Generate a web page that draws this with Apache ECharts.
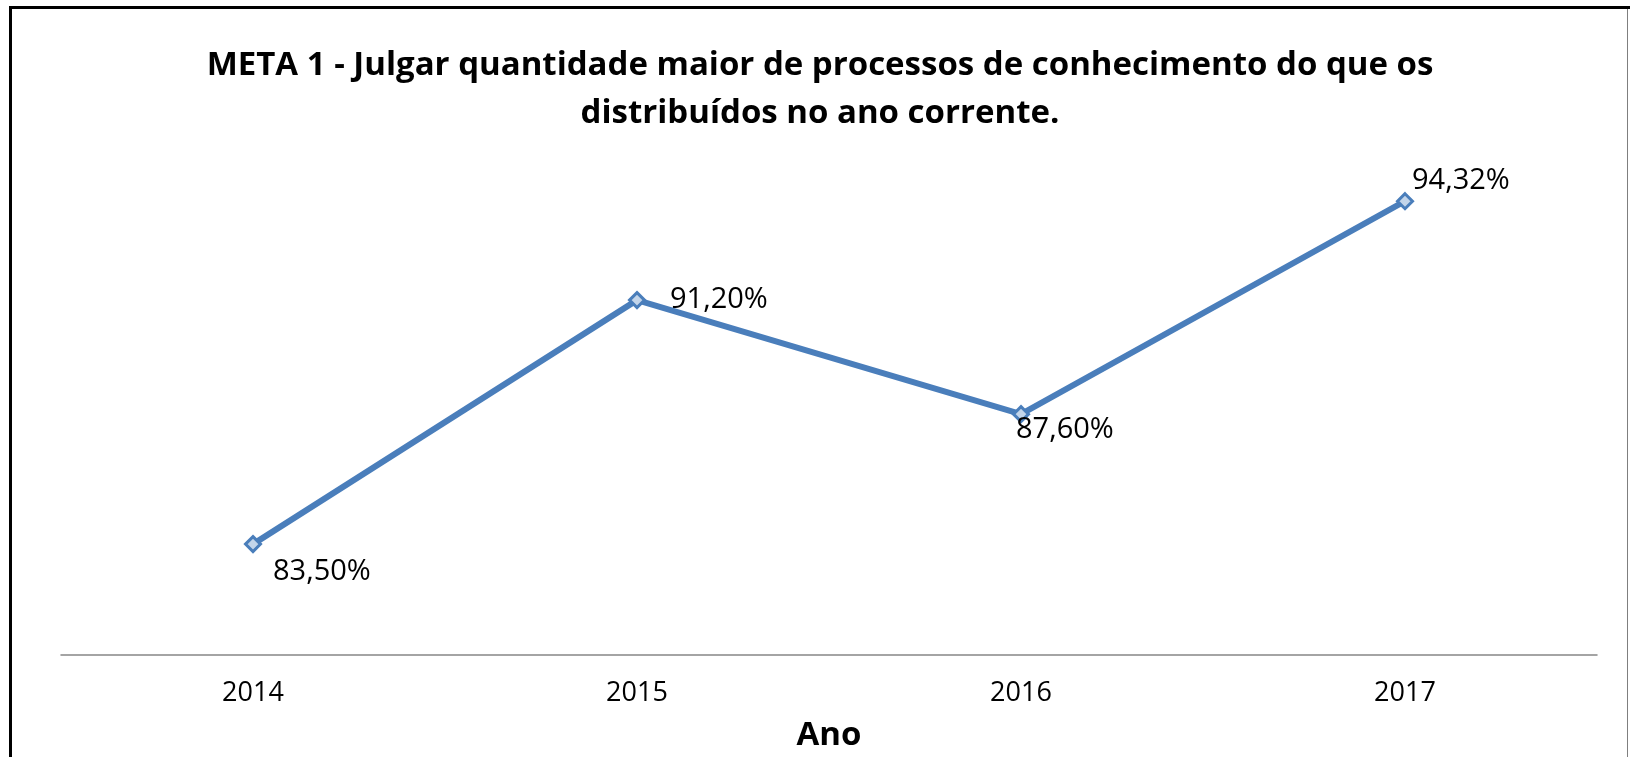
<!DOCTYPE html>
<html>
<head>
<meta charset="utf-8">
<script src="https://cdn.jsdelivr.net/npm/echarts@6/dist/echarts.min.js"></script>
<style>
  html, body { margin: 0; padding: 0; background: #fff; }
  #chart { width: 1630px; height: 757px; }
</style>
</head>
<body>
<div id="chart"></div>
<script>
const years = ["2014", "2015", "2016", "2017"];
const values = [83.5, 91.2, 87.6, 94.32];
// where each data label sits relative to its point (Excel places them by hand)
const labelOffsets = [[11, 28], [24, 0], [-14, 16], [-2, -21]];

const font = "'Open Sans', 'Noto Sans', sans-serif";

let chart = echarts.init(document.getElementById("chart"));

let option = {
  backgroundColor: "#fff",
  animation: false,
  title: {
    text: "META 1 - Julgar quantidade maior de processos de conhecimento do que os\ndistribuídos no ano corrente.",
    left: 820,
    textAlign: "center",
    top: 42,
    padding: 0,
    textStyle: {
      fontFamily: font,
      fontWeight: "bold",
      fontSize: 33,
      lineHeight: 48,
      color: "#000"
    }
  },
  grid: {
    left: 61,
    right: 33,
    top: 148,
    bottom: 102
  },
  xAxis: {
    type: "category",
    data: years,
    boundaryGap: true,
    name: "Ano",
    nameLocation: "middle",
    nameGap: 64,
    nameTextStyle: {
      fontFamily: font,
      fontWeight: "bold",
      fontSize: 33,
      color: "#000"
    },
    axisLine: { lineStyle: { color: "#868686", width: 1.5 } },
    axisTick: { show: false },
    axisLabel: {
      margin: 25,
      fontFamily: font,
      fontSize: 27,
      lineHeight: 27,
      color: "#000"
    }
  },
  yAxis: {
    type: "value",
    min: 80,
    max: 96,
    show: false,
    splitLine: { show: false }
  },
  series: [
    {
      type: "line",
      data: values.map((v, i) => ({
        value: v,
        label: {
          position: "right",
          distance: 0,
          offset: labelOffsets[i]
        }
      })),
      symbol: "diamond",
      symbolSize: 15,
      lineStyle: { color: "#4a7ebb", width: 6 },
      itemStyle: { color: "#c3d5ea", borderColor: "#4a7ebb", borderWidth: 3 },
      label: {
        show: true,
        fontFamily: font,
        fontSize: 29,
        color: "#000",
        formatter: p => p.value.toFixed(2).replace(".", ",") + "%"
      }
    }
  ],
  graphic: [
    { type: "rect", shape: { x: 9, y: 6, width: 1621, height: 3 }, style: { fill: "#000" } },
    { type: "rect", shape: { x: 9, y: 6, width: 3, height: 751 }, style: { fill: "#000" } },
    { type: "rect", shape: { x: 1627, y: 9, width: 1, height: 748 }, style: { fill: "#7f7f7f" } }
  ]
};

chart.setOption(option);
</script>
</body>
</html>
